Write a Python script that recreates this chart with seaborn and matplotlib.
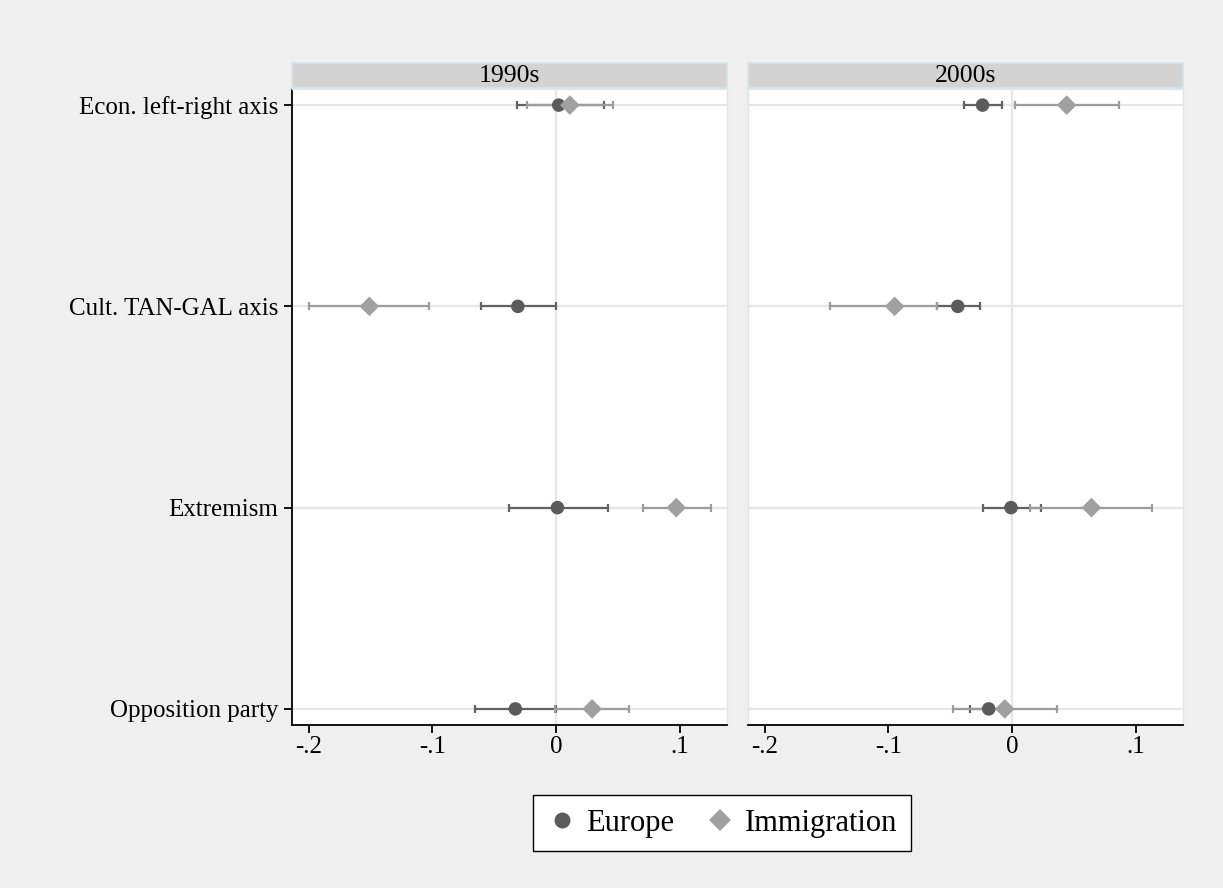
import numpy as np
import pandas as pd
import matplotlib
matplotlib.use("Agg")
import matplotlib.pyplot as plt
from matplotlib.lines import Line2D
import seaborn as sns

rows = ["Econ. left-right axis", "Cult. TAN-GAL axis", "Extremism", "Opposition party"]
periods = ["1990s", "2000s"]
series = ["Europe", "Immigration"]

europe_1990 = [0.002, -0.031, 0.001, -0.033]
europe_1990_lo = [-0.032, -0.061, -0.038, -0.066]
europe_1990_hi = [0.039, 0.000, 0.042, 0.000]
imm_1990 = [0.011, -0.151, 0.097, 0.029]
imm_1990_lo = [-0.024, -0.200, 0.070, -0.001]
imm_1990_hi = [0.046, -0.103, 0.125, 0.059]

europe_2000 = [-0.024, -0.044, -0.001, -0.019]
europe_2000_lo = [-0.039, -0.061, -0.024, -0.034]
europe_2000_hi = [-0.008, -0.026, 0.023, -0.004]
imm_2000 = [0.044, -0.095, 0.064, -0.006]
imm_2000_lo = [0.002, -0.147, 0.0145, -0.048]
imm_2000_hi = [0.086, -0.061, 0.113, 0.036]

xticks = [-0.2, -0.1, 0.0, 0.1]
xticklabels = ["-.2", "-.1", "0", ".1"]

records = []
for period, e, elo, ehi, m, mlo, mhi in [
    ("1990s", europe_1990, europe_1990_lo, europe_1990_hi, imm_1990, imm_1990_lo, imm_1990_hi),
    ("2000s", europe_2000, europe_2000_lo, europe_2000_hi, imm_2000, imm_2000_lo, imm_2000_hi),
]:
    for i, r in enumerate(rows):
        records.append(dict(period=period, row=r, pos=i, series="Europe", est=e[i], lo=elo[i], hi=ehi[i]))
        records.append(dict(period=period, row=r, pos=i, series="Immigration", est=m[i], lo=mlo[i], hi=mhi[i]))
df = pd.DataFrame(records)

sns.set_theme(style="white")
plt.rcParams["font.family"] = ["Liberation Serif", "DejaVu Serif"]
plt.rcParams["text.color"] = "black"
plt.rcParams["xtick.color"] = "black"
plt.rcParams["ytick.color"] = "black"
plt.rcParams["axes.labelcolor"] = "black"

W, H = 1223, 888
fig = plt.figure(figsize=(W / 100, H / 100), dpi=100, facecolor="#efefef")

point_col = {"Europe": "#5b5b5b", "Immigration": "#a0a0a0"}
line_col = {"Europe": "#626262", "Immigration": "#9c9c9c"}
markers = {"Europe": "o", "Immigration": "D"}
msize = {"Europe": 95, "Immigration": 100}

ax_lefts = [292, 748]
ax_w = 435
ax_top, ax_bot = 89, 725
strip_top = 63

for k, period in enumerate(periods):
    L = ax_lefts[k]
    ax = fig.add_axes([L / W, 1 - ax_bot / H, ax_w / W, (ax_bot - ax_top) / H])
    ax.set_facecolor("white")
    sub = df[df.period == period]
    for r in range(len(rows)):
        ax.axhline(r, color="#e6e6e6", lw=1.6, zorder=0)
    ax.axvline(0, color="#e6e6e6", lw=1.6, zorder=0)
    for s in series:
        d = sub[sub.series == s]
        ax.errorbar(d.est, d.pos, xerr=[d.est - d.lo, d.hi - d.est], fmt="none",
                    ecolor=line_col[s], elinewidth=1.6, capsize=2.8, capthick=1.6, zorder=2)
        sns.scatterplot(data=d, x="est", y="pos", marker=markers[s], color=point_col[s],
                        s=msize[s], edgecolor="none", linewidth=0, ax=ax, zorder=3, legend=False)
    ax.set_xlim(-0.2135, 0.138)
    ax.set_ylim(3.08, -0.08)
    ax.set_xticks(xticks)
    ax.set_xticklabels(xticklabels, fontsize=18, color="black")
    ax.set_xlabel("")
    ax.set_ylabel("")
    ax.tick_params(axis="x", direction="out", length=6, width=1.3, color="black", pad=2, bottom=True,
                   labelcolor="black")
    for sp in ["top", "right"]:
        ax.spines[sp].set_color("#e4e4e4")
        ax.spines[sp].set_linewidth(1)
    ax.spines["bottom"].set_color("black")
    ax.spines["bottom"].set_linewidth(1.3)
    if k == 0:
        ax.set_yticks(range(len(rows)))
        ax.set_yticklabels(rows, fontsize=18, color="black")
        ax.tick_params(axis="y", direction="out", length=6, width=1.3, color="black", pad=4, left=True,
                       labelcolor="black")
        ax.spines["left"].set_color("black")
        ax.spines["left"].set_linewidth(1.3)
    else:
        ax.set_yticks([])
        ax.spines["left"].set_color("#e4e4e4")
        ax.spines["left"].set_linewidth(1)
    # strip
    sax = fig.add_axes([L / W, 1 - (ax_top - 1) / H, ax_w / W, (ax_top - 1 - strip_top) / H])
    sax.set_facecolor("#d3d3d3")
    sax.set_xticks([])
    sax.set_yticks([])
    for sp in sax.spines.values():
        sp.set_color("#d6e4ea")
        sp.set_linewidth(1.2)
    sax.text(0.5, 0.47, period, ha="center", va="center", fontsize=18.5, color="black",
             transform=sax.transAxes)

handles = [
    Line2D([], [], linestyle="none", marker="o", color=point_col["Europe"], markersize=11.5, markeredgewidth=0),
    Line2D([], [], linestyle="none", marker="D", color=point_col["Immigration"], markersize=11, markeredgewidth=0),
]
leg = fig.legend(handles, series, loc="center", bbox_to_anchor=(722 / W, 1 - 823 / H), ncol=2,
                 fontsize=22, frameon=True, fancybox=False, edgecolor="black", facecolor="white",
                 framealpha=1, handletextpad=0.3, columnspacing=1.0, handlelength=1.0, borderpad=0.45)
leg.get_frame().set_linewidth(1.0)
for t in leg.get_texts():
    t.set_color("black")

fig.savefig("out.png", dpi=100, facecolor=fig.get_facecolor())
